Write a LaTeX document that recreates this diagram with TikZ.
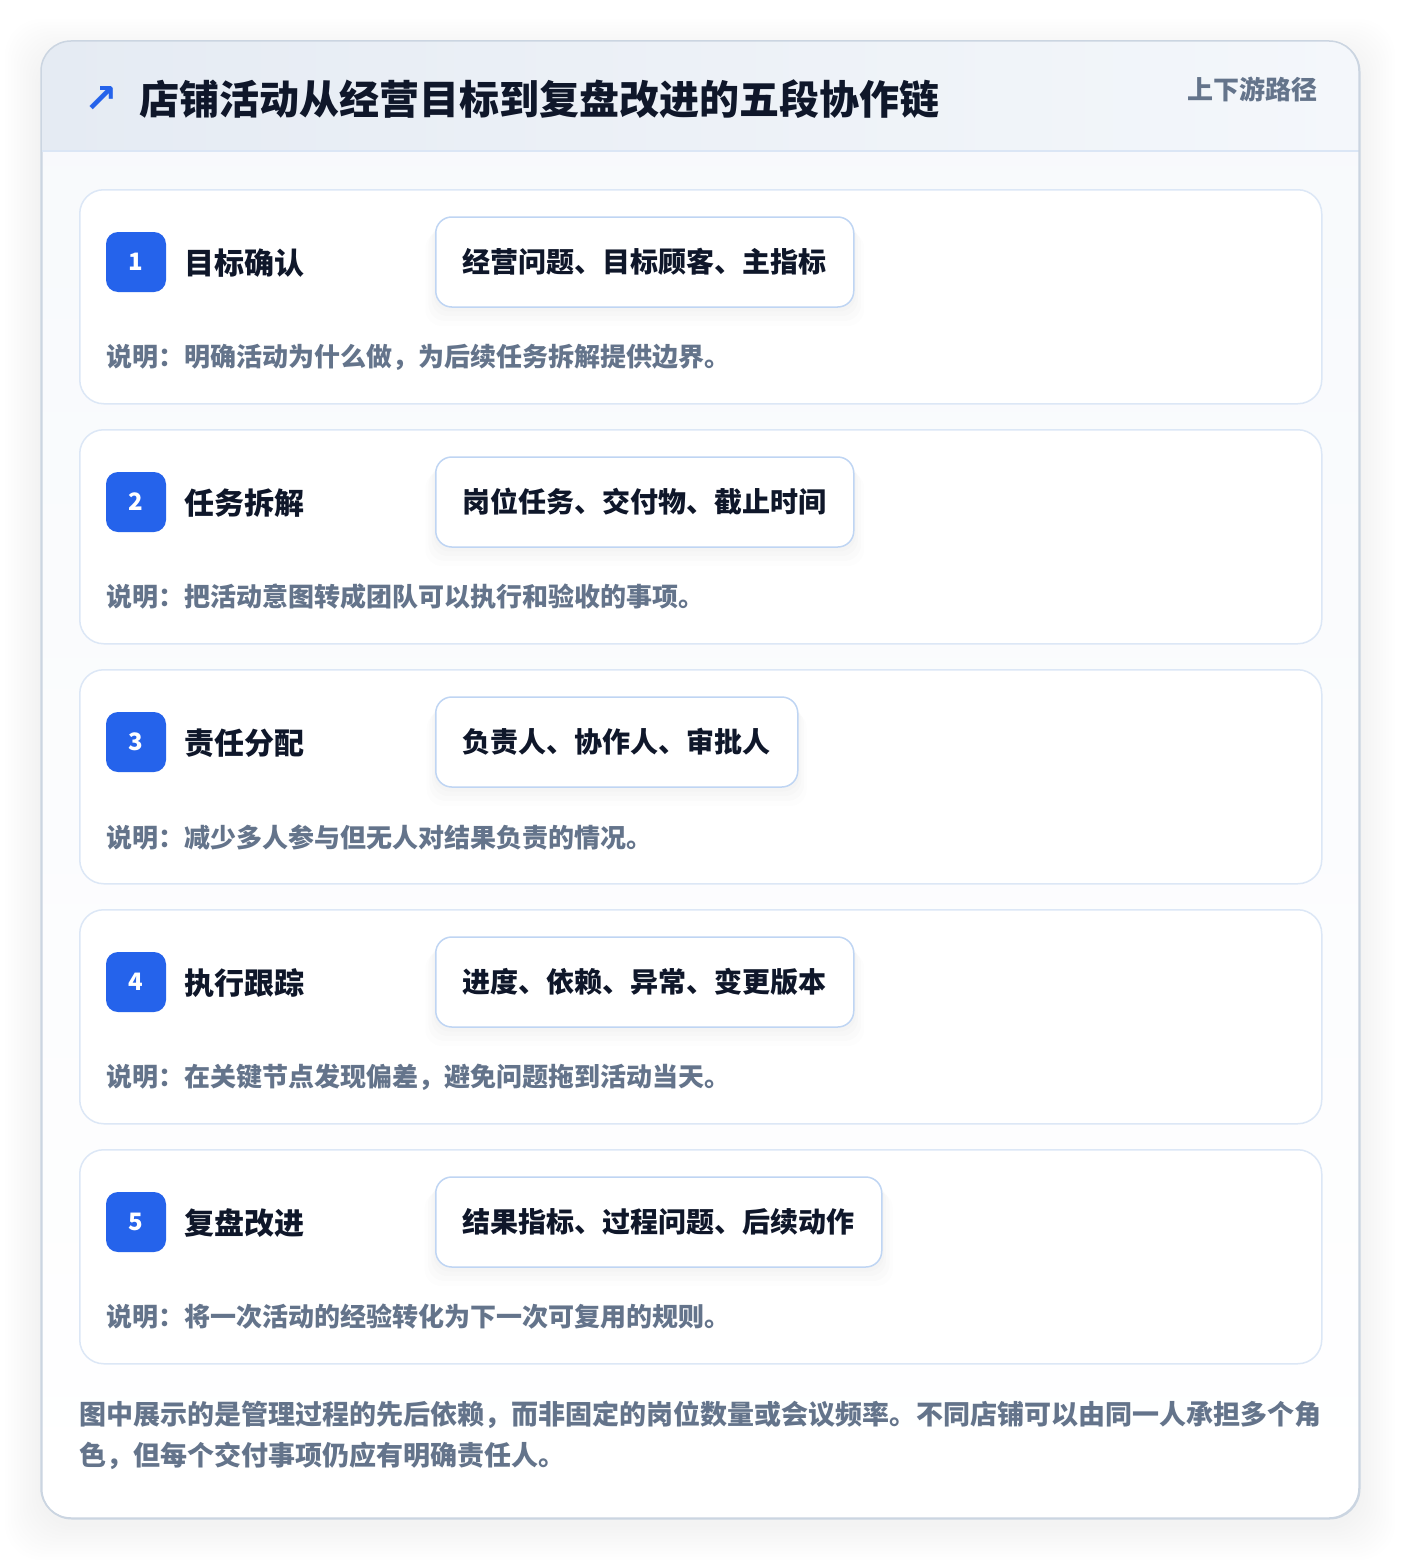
\documentclass[tikz,border=0pt]{standalone}
\usepackage{fontspec}
\setmainfont{Noto Sans CJK SC}
\newfontfamily\symfont{DejaVu Sans}
\usetikzlibrary{positioning,shadows}

\definecolor{inkdark}{HTML}{0F172A}
\definecolor{inkgrey}{HTML}{64748B}
\definecolor{badgeblue}{HTML}{2563EB}
\definecolor{panelline}{HTML}{CBD5E1}
\definecolor{headleft}{HTML}{E5EBF3}
\definecolor{headright}{HTML}{F4F7FB}
\definecolor{headline}{HTML}{DBE6F5}
\definecolor{bodytop}{HTML}{F7F9FC}
\definecolor{cardline}{HTML}{DCE7F6}
\definecolor{pillline}{HTML}{BFD5F3}

\tikzset{
    panel/.style={draw=panelline, line width=1.5pt, rounded corners=30pt,
        top color=bodytop, bottom color=white, anchor=north west,
        minimum width=1318pt, minimum height=1477pt, inner sep=0pt},
    stepcard/.style={draw=cardline, line width=1.5pt, fill=white, rounded corners=24pt,
        anchor=north west, minimum width=1242pt, minimum height=214pt, inner sep=0pt},
    badge/.style={fill=badgeblue, rounded corners=12pt, minimum size=60pt, inner sep=0pt,
        text=white, font=\fontsize{24}{24}\selectfont\bfseries},
    steptitle/.style={anchor=west, inner sep=0pt, text=inkdark,
        font=\fontsize{30}{36}\selectfont\bfseries},
    pill/.style={anchor=west, draw=pillline, line width=1.5pt, fill=white, rounded corners=16pt,
        minimum height=90pt, inner xsep=27pt, text=inkdark,
        font=\fontsize{28}{34}\selectfont\bfseries,
        drop shadow={shadow xshift=0pt, shadow yshift=-4pt, shadow scale=1.01, opacity=0.012, fill=black},
        drop shadow={shadow xshift=0pt, shadow yshift=-8pt, shadow scale=1.02, opacity=0.012, fill=black},
        drop shadow={shadow xshift=0pt, shadow yshift=-12pt, shadow scale=1.035, opacity=0.01, fill=black},
        drop shadow={shadow xshift=0pt, shadow yshift=-16pt, shadow scale=1.05, opacity=0.008, fill=black}},
    note/.style={anchor=west, inner sep=0pt, text=inkgrey,
        font=\fontsize{26}{30}\selectfont\bfseries},
    footnote/.style={anchor=west, inner sep=0pt, text=inkgrey,
        font=\fontsize{27}{41}\selectfont\bfseries}
}

\begin{document}
\begin{tikzpicture}[x=1pt,y=-1pt]
    \useasboundingbox[fill=white] (0,0) rectangle (1400,1560);
    %% Soft shadow under the panel
    \foreach \s in {3,6,...,36}
        \fill[black, opacity=0.0045, rounded corners=36pt]
            (41-\s,41-\s+14) rectangle (1359+\s,1518+\s+6);
    %% Panel and header
    \node[panel] (panel) at (41,41) {};
    \begin{scope}
        \clip[rounded corners=30pt] (41,41) rectangle (1359,1518);
        \shade[left color=headleft, right color=headright] (41,41) rectangle (1359,151);
    \end{scope}
    \draw[headline, line width=1.5pt] (41,151) -- (1359,151);
    \draw[panelline, line width=1.5pt, rounded corners=30pt] (41,41) rectangle (1359,1518);
    \node[anchor=center, inner sep=0pt, text=badgeblue, font=\symfont\bfseries\fontsize{40}{40}\selectfont]
        (icon) at (101,100) {↗};
    \node[anchor=west, inner sep=0pt, text=inkdark, font=\fontsize{40}{46}\selectfont\bfseries]
        (title) at (139,99) {店铺活动从经营目标到复盘改进的五段协作链};
    \node[anchor=east, inner sep=0pt, text=inkgrey, font=\fontsize{26}{30}\selectfont\bfseries]
        (tag) at (1318,89) {上下游路径};
    %% Step 1
    \node[stepcard] (card1) at (79,189) {};
    \node[badge] (num1) at (136,262) {1};
    \node[steptitle] (name1) at (184,263) {目标确认};
    \node[pill] (out1) at (435,262) {经营问题、目标顾客、主指标};
    \node[note] (note1) at (106,357) {说明：明确活动为什么做，为后续任务拆解提供边界。};
    %% Step 2
    \node[stepcard] (card2) at (79,429) {};
    \node[badge] (num2) at (136,502) {2};
    \node[steptitle] (name2) at (184,503) {任务拆解};
    \node[pill] (out2) at (435,502) {岗位任务、交付物、截止时间};
    \node[note] (note2) at (106,597) {说明：把活动意图转成团队可以执行和验收的事项。};
    %% Step 3
    \node[stepcard] (card3) at (79,669) {};
    \node[badge] (num3) at (136,742) {3};
    \node[steptitle] (name3) at (184,743) {责任分配};
    \node[pill] (out3) at (435,742) {负责人、协作人、审批人};
    \node[note] (note3) at (106,837) {说明：减少多人参与但无人对结果负责的情况。};
    %% Step 4
    \node[stepcard] (card4) at (79,909) {};
    \node[badge] (num4) at (136,982) {4};
    \node[steptitle] (name4) at (184,983) {执行跟踪};
    \node[pill] (out4) at (435,982) {进度、依赖、异常、变更版本};
    \node[note] (note4) at (106,1077) {说明：在关键节点发现偏差，避免问题拖到活动当天。};
    %% Step 5
    \node[stepcard] (card5) at (79,1149) {};
    \node[badge] (num5) at (136,1222) {5};
    \node[steptitle] (name5) at (184,1223) {复盘改进};
    \node[pill] (out5) at (435,1222) {结果指标、过程问题、后续动作};
    \node[note] (note5) at (106,1317) {说明：将一次活动的经验转化为下一次可复用的规则。};
    %% Footnote
    \node[footnote] (foot1) at (79,1415)
        {图中展示的是管理过程的先后依赖，而非固定的岗位数量或会议频率。不同店铺可以由同一人承担多个角};
    \node[footnote] (foot2) at (79,1456) {色，但每个交付事项仍应有明确责任人。};
\end{tikzpicture}
\end{document}
